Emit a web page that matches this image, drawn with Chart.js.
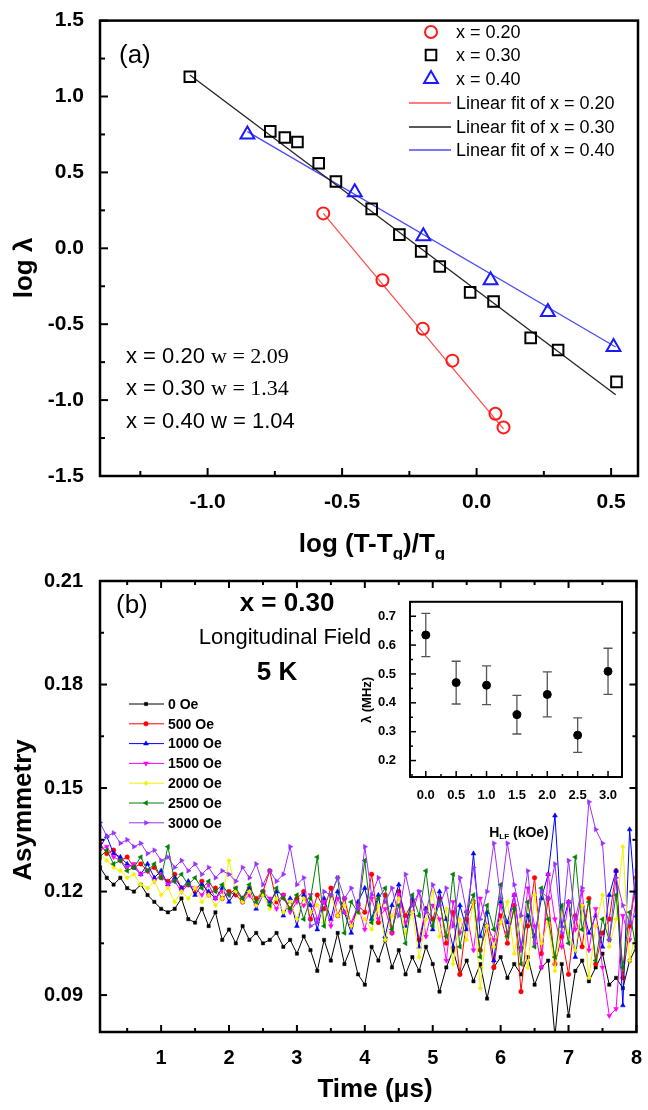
<!DOCTYPE html>
<html>
<head>
<meta charset="utf-8">
<script src="https://cdn.jsdelivr.net/npm/chart.js@4.4.0/dist/chart.umd.min.js"></script>
<style>
  html, body { margin: 0; padding: 0; background: #fff; }
  #wrap { position: relative; width: 648px; height: 1110px; }
  #wrap canvas { position: absolute; }
</style>
</head>
<body>
<div id="wrap">
  <canvas id="chartA" width="648" height="560" style="left:0;top:0;width:648px;height:560px"></canvas>
  <canvas id="chartB" width="648" height="550" style="left:0;top:560px;width:648px;height:550px"></canvas>
  <canvas id="inset" width="290" height="262" style="left:350px;top:588px;width:290px;height:262px"></canvas>
</div>
<script>
// === panel (a): log lambda vs log reduced temperature ===
const x20 = [-0.57, -0.35, -0.20, -0.09, 0.07, 0.10];
const y20 = [0.23, -0.21, -0.53, -0.74, -1.09, -1.18];
const x30 = [-1.066, -0.767, -0.713, -0.666, -0.587, -0.523, -0.390, -0.287, -0.206, -0.137, -0.024, 0.063, 0.201, 0.303, 0.520];
const y30 = [1.13, 0.77, 0.73, 0.70, 0.56, 0.44, 0.26, 0.09, -0.02, -0.12, -0.29, -0.35, -0.59, -0.67, -0.88];
const x40 = [-0.852, -0.453, -0.198, 0.052, 0.265, 0.509];
const y40 = [0.75, 0.37, 0.08, -0.21, -0.42, -0.65];
// fit line end points
const fit20X = [-0.57, 0.10], fit20Y = [0.23, -1.19];
const fit30X = [-1.066, 0.517], fit30Y = [1.142, -0.965];
const fit40X = [-0.852, 0.517], fit40Y = [0.769, -0.650];

const aXTicks = [-1.0, -0.5, 0.0, 0.5];
const aXMinor = [-1.25, -0.75, -0.25, 0.25];
const aYTicks = [-1.5, -1.0, -0.5, 0.0, 0.5, 1.0, 1.5];
const aYMinor = [-1.25, -0.75, -0.25, 0.25, 0.75, 1.25];

// === panel (b): asymmetry vs time ===
const timeUs = [
  0.1, 0.2, 0.3, 0.4, 0.5, 0.6, 0.7, 0.8, 0.9, 1.0,
  1.1, 1.2, 1.3, 1.4, 1.5, 1.6, 1.7, 1.8, 1.9, 2.0,
  2.1, 2.2, 2.3, 2.4, 2.5, 2.6, 2.7, 2.8, 2.9, 3.0,
  3.1, 3.2, 3.3, 3.4, 3.5, 3.6, 3.7, 3.8, 3.9, 4.0,
  4.1, 4.2, 4.3, 4.4, 4.5, 4.6, 4.7, 4.8, 4.9, 5.0,
  5.1, 5.2, 5.3, 5.4, 5.5, 5.6, 5.7, 5.8, 5.9, 6.0,
  6.1, 6.2, 6.3, 6.4, 6.5, 6.6, 6.7, 6.8, 6.9, 7.0,
  7.1, 7.2, 7.3, 7.4, 7.5, 7.6, 7.7, 7.8, 7.9, 8.0
];
const asym0 = [
  0.127, 0.124, 0.122, 0.124, 0.121, 0.120, 0.122, 0.119, 0.117, 0.115,
  0.114, 0.115, 0.118, 0.112, 0.111, 0.115, 0.110, 0.114, 0.106, 0.109,
  0.105, 0.110, 0.106, 0.108, 0.105, 0.106, 0.108, 0.104, 0.106, 0.102,
  0.107, 0.103, 0.097, 0.106, 0.100, 0.108, 0.099, 0.104, 0.096, 0.093,
  0.104, 0.100, 0.106, 0.098, 0.103, 0.096, 0.101, 0.097, 0.104, 0.099,
  0.091, 0.098, 0.103, 0.096, 0.100, 0.094, 0.099, 0.089, 0.098, 0.101,
  0.095, 0.099, 0.096, 0.101, 0.093, 0.098, 0.100, 0.078, 0.099, 0.084,
  0.097, 0.100, 0.094, 0.098, 0.102, 0.093, 0.095, 0.092, 0.100, 0.104
];
const asym500 = [
  0.134, 0.131, 0.132, 0.129, 0.130, 0.127, 0.128, 0.126, 0.127, 0.124,
  0.123, 0.125, 0.121, 0.122, 0.120, 0.123, 0.119, 0.121, 0.118, 0.120,
  0.119, 0.117, 0.121, 0.118, 0.120, 0.126, 0.117, 0.119, 0.115, 0.118,
  0.120, 0.112, 0.119, 0.115, 0.121, 0.113, 0.118, 0.110, 0.116, 0.114,
  0.125, 0.111, 0.119, 0.108, 0.120, 0.113, 0.117, 0.106, 0.115, 0.112,
  0.118, 0.105, 0.114, 0.096, 0.112, 0.117, 0.103, 0.110, 0.098, 0.113,
  0.105, 0.116, 0.091, 0.110, 0.124, 0.102, 0.118, 0.099, 0.107, 0.096,
  0.113, 0.104, 0.118, 0.099, 0.108, 0.112, 0.126, 0.095, 0.110, 0.124
];
const asym1000 = [
  0.133, 0.136, 0.131, 0.130, 0.128, 0.127, 0.125, 0.128, 0.124, 0.126,
  0.122, 0.124, 0.121, 0.123, 0.119, 0.122, 0.120, 0.118, 0.121, 0.117,
  0.120, 0.118, 0.121, 0.115, 0.119, 0.117, 0.120, 0.113, 0.118, 0.110,
  0.119, 0.116, 0.109, 0.118, 0.112, 0.120, 0.114, 0.108, 0.117, 0.121,
  0.112, 0.119, 0.107, 0.116, 0.122, 0.110, 0.118, 0.104, 0.115, 0.109,
  0.120, 0.112, 0.104, 0.116, 0.109, 0.131, 0.107, 0.114, 0.100, 0.117,
  0.111, 0.119, 0.104, 0.113, 0.107, 0.118, 0.125, 0.142, 0.110, 0.117,
  0.101, 0.116, 0.108, 0.113, 0.104, 0.119, 0.126, 0.087, 0.138, 0.113
];
const asym1500 = [
  0.132, 0.133, 0.130, 0.129, 0.127, 0.128, 0.125, 0.126, 0.123, 0.125,
  0.122, 0.123, 0.120, 0.122, 0.121, 0.119, 0.122, 0.118, 0.120, 0.119,
  0.121, 0.117, 0.119, 0.116, 0.120, 0.118, 0.115, 0.119, 0.114, 0.117,
  0.116, 0.119, 0.112, 0.117, 0.110, 0.118, 0.114, 0.111, 0.116, 0.109,
  0.118, 0.112, 0.115, 0.108, 0.119, 0.111, 0.114, 0.120, 0.107, 0.116,
  0.112, 0.100, 0.117, 0.108, 0.114, 0.103, 0.118, 0.110, 0.106, 0.116,
  0.108, 0.119, 0.103, 0.121, 0.110, 0.098, 0.125, 0.112, 0.104, 0.117,
  0.109, 0.120, 0.103, 0.115, 0.098, 0.084, 0.086, 0.113, 0.106, 0.118
];
const asym2000 = [
  0.131, 0.129, 0.127, 0.126, 0.124, 0.125, 0.122, 0.121, 0.123, 0.119,
  0.121, 0.117, 0.120, 0.118, 0.121, 0.117, 0.119, 0.116, 0.118, 0.129,
  0.120, 0.117, 0.120, 0.116, 0.119, 0.115, 0.118, 0.114, 0.117, 0.112,
  0.118, 0.114, 0.116, 0.111, 0.119, 0.113, 0.116, 0.110, 0.114, 0.112,
  0.109, 0.116, 0.106, 0.113, 0.118, 0.108, 0.114, 0.101, 0.112, 0.120,
  0.107, 0.115, 0.099, 0.112, 0.106, 0.117, 0.092, 0.110, 0.104, 0.111,
  0.117, 0.102, 0.113, 0.098, 0.119, 0.105, 0.111, 0.097, 0.114, 0.108,
  0.103, 0.116, 0.095, 0.110, 0.119, 0.104, 0.112, 0.133, 0.100, 0.109
];
const asym2500 = [
  0.130, 0.132, 0.128, 0.129, 0.126, 0.127, 0.130, 0.126, 0.128, 0.124,
  0.133, 0.123, 0.125, 0.122, 0.124, 0.121, 0.123, 0.120, 0.122, 0.119,
  0.121, 0.118, 0.122, 0.117, 0.120, 0.116, 0.121, 0.118, 0.115, 0.119,
  0.112, 0.118, 0.130, 0.110, 0.119, 0.124, 0.108, 0.117, 0.114, 0.129,
  0.111, 0.118, 0.121, 0.109, 0.116, 0.105, 0.119, 0.113, 0.126, 0.110,
  0.117, 0.107, 0.125, 0.104, 0.114, 0.119, 0.101, 0.116, 0.109, 0.122,
  0.107, 0.115, 0.099, 0.117, 0.104, 0.121, 0.112, 0.101, 0.116, 0.105,
  0.130, 0.109, 0.117, 0.100, 0.112, 0.106, 0.119, 0.098, 0.114, 0.103
];
const asym3000 = [
  0.140, 0.136, 0.137, 0.134, 0.135, 0.133, 0.134, 0.131, 0.132, 0.129,
  0.130, 0.127, 0.129, 0.126, 0.128, 0.125, 0.127, 0.124, 0.126, 0.125,
  0.123, 0.127, 0.124, 0.128, 0.122, 0.126, 0.123, 0.125, 0.133, 0.122,
  0.124, 0.110, 0.111, 0.120, 0.119, 0.124, 0.118, 0.121, 0.115, 0.133,
  0.119, 0.124, 0.117, 0.121, 0.113, 0.125, 0.116, 0.120, 0.114, 0.122,
  0.116, 0.121, 0.110, 0.124, 0.114, 0.127, 0.112, 0.120, 0.134, 0.118,
  0.134, 0.122, 0.113, 0.126, 0.105, 0.120, 0.118, 0.128, 0.108, 0.129,
  0.112, 0.121, 0.146, 0.138, 0.134, 0.106, 0.124, 0.116, 0.111, 0.126
];
const fieldLabels = ['0 Oe', '500 Oe', '1000 Oe', '1500 Oe', '2000 Oe', '2500 Oe', '3000 Oe'];

const bXTicks = [1, 2, 3, 4, 5, 6, 7, 8];
const bXMinor = [0.5, 1.5, 2.5, 3.5, 4.5, 5.5, 6.5, 7.5];
const bYTicks = [0.09, 0.12, 0.15, 0.18, 0.21];
const bYMinor = [0.105, 0.135, 0.165, 0.195];

// === inset: lambda vs longitudinal field ===
const fieldKOe = [0.0, 0.5, 1.0, 1.5, 2.0, 2.5, 3.0];
const lambdaMHz = [0.635, 0.470, 0.461, 0.359, 0.429, 0.288, 0.509];
const lambdaErr = [0.075, 0.074, 0.067, 0.067, 0.078, 0.060, 0.080];

const iXTicks = [0.0, 0.5, 1.0, 1.5, 2.0, 2.5, 3.0];
const iXMinor = [0.25, 0.75, 1.25, 1.75, 2.25, 2.75];
const iYTicks = [0.2, 0.3, 0.4, 0.5, 0.6, 0.7];
const iYMinor = [0.15, 0.25, 0.35, 0.45, 0.55, 0.65, 0.75];

// ------------------------------------------------------------
const SANS = "'Liberation Sans', Arial, sans-serif";
const SERIF = "'Liberation Serif', 'Times New Roman', serif";
Chart.defaults.font.family = SANS;
Chart.defaults.color = '#000';

const pts = (xs, ys) => xs.map((x, i) => ({ x, y: ys[i] }));

function linAxis(min, max, tickVals, digits, size, fit, pad) {
  return {
    type: 'linear', min, max,
    grid: { display: false },
    border: { display: false },
    afterBuildTicks: s => { s.ticks = tickVals.map(v => ({ value: v })); },
    afterFit: s => { if (s.isHorizontal()) s.height = fit; else s.width = fit; },
    ticks: {
      color: '#000', padding: pad, autoSkip: false, maxRotation: 0,
      font: { family: SANS, size, weight: 'bold' },
      callback: v => Number(v).toFixed(digits)
    }
  };
}

// box + inward ticks
const framePlugin = {
  id: 'frame',
  afterDatasetsDraw(chart, args, o) {
    const { ctx, chartArea: a } = chart;
    const sx = chart.scales.x, sy = chart.scales.y;
    ctx.save();
    ctx.strokeStyle = '#000';
    ctx.lineWidth = o.tickWidth || 1.5;
    const xt = (vals, len) => vals.forEach(v => {
      const p = sx.getPixelForValue(v);
      ctx.beginPath(); ctx.moveTo(p, a.bottom); ctx.lineTo(p, a.bottom - len); ctx.stroke();
      if (o.mirror) { ctx.beginPath(); ctx.moveTo(p, a.top); ctx.lineTo(p, a.top + len); ctx.stroke(); }
    });
    const yt = (vals, len) => vals.forEach(v => {
      const p = sy.getPixelForValue(v);
      ctx.beginPath(); ctx.moveTo(a.left, p); ctx.lineTo(a.left + len, p); ctx.stroke();
      if (o.mirror) { ctx.beginPath(); ctx.moveTo(a.right, p); ctx.lineTo(a.right - len, p); ctx.stroke(); }
    });
    xt(o.xMajor, o.major); xt(o.xMinor, o.minor);
    yt(o.yMajor, o.major); yt(o.yMinor, o.minor);
    ctx.lineWidth = o.lw;
    ctx.strokeRect(a.left, a.top, a.right - a.left, a.bottom - a.top);
    ctx.restore();
  }
};

// free text, parts may mix fonts / subscripts
const notesPlugin = {
  id: 'notes',
  afterDraw(chart, args, o) {
    const ctx = chart.ctx;
    (o.items || []).forEach(it => {
      ctx.save();
      ctx.fillStyle = '#000';
      ctx.textBaseline = 'middle';
      ctx.translate(it.x, it.y);
      if (it.rot) ctx.rotate(it.rot);
      let w = 0;
      it.parts.forEach(p => { ctx.font = p.f; w += ctx.measureText(p.t).width; });
      let cx = it.center ? -w / 2 : 0;
      it.parts.forEach(p => {
        ctx.font = p.f;
        ctx.fillText(p.t, cx, p.dy || 0);
        cx += ctx.measureText(p.t).width;
      });
      ctx.restore();
    });
  }
};

// legend drawn inside the plot
const keyPlugin = {
  id: 'key',
  afterDraw(chart, args, o) {
    if (!o.items) return;
    const ctx = chart.ctx;
    o.items.forEach(it => {
      const ds = chart.data.datasets[it.ds];
      ctx.save();
      if (it.line) {
        ctx.strokeStyle = ds.borderColor;
        ctx.lineWidth = ds.borderWidth || 1;
        ctx.beginPath(); ctx.moveTo(it.line[0], it.y); ctx.lineTo(it.line[1], it.y); ctx.stroke();
      }
      if (it.mark !== undefined) {
        ctx.fillStyle = ds.pointBackgroundColor || 'transparent';
        ctx.strokeStyle = ds.pointBorderColor || ds.borderColor;
        ctx.lineWidth = ds.pointBorderWidth;
        Chart.helpers.drawPoint(ctx, {
          pointStyle: ds.pointStyle, rotation: ds.pointRotation || 0,
          radius: ds.pointRadius, borderWidth: ds.pointBorderWidth
        }, it.mark, it.y);
      }
      ctx.fillStyle = '#000';
      ctx.font = o.font;
      ctx.textBaseline = 'middle';
      ctx.fillText(ds.label, o.textX, it.y + 1);
      ctx.restore();
    });
  }
};

// vertical error bars for the inset
const errPlugin = {
  id: 'errbars',
  beforeDatasetsDraw(chart, args, o) {
    if (!o.err) return;
    const { ctx } = chart;
    const sx = chart.scales.x, sy = chart.scales.y;
    ctx.save();
    ctx.strokeStyle = '#555';
    ctx.lineWidth = 1.3;
    o.xs.forEach((xv, i) => {
      const px = sx.getPixelForValue(xv);
      const t = sy.getPixelForValue(o.ys[i] + o.err[i]);
      const b = sy.getPixelForValue(o.ys[i] - o.err[i]);
      ctx.beginPath();
      ctx.moveTo(px, t); ctx.lineTo(px, b);
      ctx.moveTo(px - 4.5, t); ctx.lineTo(px + 4.5, t);
      ctx.moveTo(px - 4.5, b); ctx.lineTo(px + 4.5, b);
      ctx.stroke();
    });
    ctx.restore();
  }
};

const plugins = [framePlugin, notesPlugin, keyPlugin, errPlugin];

// ---------------- panel (a) ----------------
const openPt = (label, xs, ys, style, r, color) => ({
  label, data: pts(xs, ys), pointStyle: style, pointRadius: r,
  pointBorderWidth: 2, borderColor: color, pointBorderColor: color,
  pointBackgroundColor: 'transparent', backgroundColor: 'transparent'
});
const fitLine = (label, xs, ys, color) => ({
  label, data: pts(xs, ys), showLine: true, pointRadius: 0,
  borderColor: color, borderWidth: 1.3
});

new Chart(document.getElementById('chartA'), {
  type: 'scatter',
  data: {
    datasets: [
      openPt('x = 0.20', x20, y20, 'circle', 6, '#ff1a1a'),
      openPt('x = 0.30', x30, y30, 'rect', 7.5, '#000000'),
      openPt('x = 0.40', x40, y40, 'triangle', 8, '#1a1aff'),
      fitLine('Linear fit of x = 0.20', fit20X, fit20Y, '#ff5050'),
      fitLine('Linear fit of x = 0.30', fit30X, fit30Y, '#222222'),
      fitLine('Linear fit of x = 0.40', fit40X, fit40Y, '#4a4aff')
    ]
  },
  options: {
    responsive: false, animation: false, events: [],
    layout: { padding: { top: 20, right: 5, left: 0, bottom: 0 } },
    scales: {
      x: linAxis(-1.4, 0.6, aXTicks, 1, 21, 84, 6),
      y: linAxis(-1.5, 1.5, aYTicks, 1, 21, 100, 8)
    },
    plugins: {
      legend: { display: false }, tooltip: { enabled: false },
      frame: { xMajor: aXTicks, xMinor: aXMinor, yMajor: aYTicks, yMinor: aYMinor, major: 8, minor: 5, lw: 2.5, tickWidth: 2 },
      key: {
        font: '18px ' + SANS, textX: 456,
        items: [
          { ds: 0, y: 32, mark: 431 },
          { ds: 1, y: 55, mark: 431 },
          { ds: 2, y: 79, mark: 431 },
          { ds: 3, y: 103, line: [409, 451] },
          { ds: 4, y: 127, line: [409, 451] },
          { ds: 5, y: 150, line: [409, 451] }
        ]
      },
      notes: {
        items: [
          { x: 119, y: 56, parts: [{ t: '(a)', f: '26px ' + SANS }] },
          { x: 126, y: 357, parts: [{ t: 'x = 0.20 ', f: '22px ' + SANS }, { t: 'w = 2.09', f: '22px ' + SERIF }] },
          { x: 126, y: 389, parts: [{ t: 'x = 0.30 ', f: '22px ' + SANS }, { t: 'w = 1.34', f: '22px ' + SERIF }] },
          { x: 126, y: 422, parts: [{ t: 'x = 0.40 w = 1.04', f: '22px ' + SANS }] },
          { x: 25, y: 268, rot: -Math.PI / 2, center: true, parts: [{ t: 'log λ', f: 'bold 26px ' + SANS }] },
          { x: 372, y: 545, center: true, parts: [
            { t: 'log (T-T', f: 'bold 26px ' + SANS },
            { t: 'g', f: 'bold 17px ' + SANS, dy: 9 },
            { t: ')/T', f: 'bold 26px ' + SANS },
            { t: 'g', f: 'bold 17px ' + SANS, dy: 9 }
          ] }
        ]
      }
    }
  },
  plugins
});

// ---------------- panel (b) ----------------
const seriesB = [asym0, asym500, asym1000, asym1500, asym2000, asym2500, asym3000];
const colorsB = ['#000000', '#ff0000', '#0000ff', '#ff00ff', '#f2f200', '#008000', '#9b30ff'];
const stylesB = ['rect', 'circle', 'triangle', 'triangle', 'rectRot', 'triangle', 'triangle'];
const rotB = [0, 0, 0, 180, 0, -90, 90];

new Chart(document.getElementById('chartB'), {
  type: 'scatter',
  data: {
    datasets: seriesB.map((vals, i) => ({
      label: fieldLabels[i],
      data: pts(timeUs, vals),
      showLine: true,
      borderColor: colorsB[i], borderWidth: 1,
      pointBackgroundColor: colorsB[i], pointBorderColor: colorsB[i],
      pointStyle: stylesB[i], pointRotation: rotB[i],
      pointRadius: stylesB[i] === 'triangle' ? 2.8 : 2.3, pointBorderWidth: 0.5,
      order: 6 - i
    }))
  },
  options: {
    responsive: false, animation: false, events: [],
    layout: { padding: { top: 19, right: 5, left: 0, bottom: 0 } },
    scales: {
      x: linAxis(0.1, 8, bXTicks, 0, 20, 78, 6),
      y: linAxis(0.0793, 0.21, bYTicks, 2, 20, 100, 9)
    },
    plugins: {
      legend: { display: false }, tooltip: { enabled: false },
      frame: { xMajor: bXTicks, xMinor: bXMinor, yMajor: bYTicks, yMinor: bYMinor, major: 7, minor: 4, lw: 2.5, tickWidth: 2, mirror: true },
      key: {
        font: 'bold 14px ' + SANS, textX: 168,
        items: fieldLabels.map((l, i) => ({ ds: i, y: 144 + 19.8 * i, line: [129, 164], mark: 146 }))
      },
      notes: {
        items: [
          { x: 116, y: 46, parts: [{ t: '(b)', f: '26px ' + SANS }] },
          { x: 287, y: 44, center: true, parts: [{ t: 'x = 0.30', f: 'bold 26px ' + SANS }] },
          { x: 285, y: 78, center: true, parts: [{ t: 'Longitudinal Field', f: '22px ' + SANS }] },
          { x: 277, y: 113, center: true, parts: [{ t: '5 K', f: 'bold 26px ' + SANS }] },
          { x: 24, y: 250, rot: -Math.PI / 2, center: true, parts: [{ t: 'Asymmetry', f: 'bold 26px ' + SANS }] },
          { x: 375, y: 530, center: true, parts: [{ t: 'Time (μs)', f: 'bold 26px ' + SANS }] }
        ]
      }
    }
  },
  plugins
});

// ---------------- inset ----------------
new Chart(document.getElementById('inset'), {
  type: 'scatter',
  data: {
    datasets: [{
      label: 'lambda', data: pts(fieldKOe, lambdaMHz),
      pointStyle: 'circle', pointRadius: 4,
      pointBackgroundColor: '#000', pointBorderColor: '#000', borderColor: '#000'
    }]
  },
  options: {
    responsive: false, animation: false, events: [],
    layout: { padding: { top: 8, right: 18, left: 0, bottom: 0 } },
    scales: {
      x: linAxis(-0.26, 3.23, iXTicks, 1, 13, 73, 3),
      y: linAxis(0.143, 0.75, iYTicks, 1, 13, 60, 6)
    },
    plugins: {
      legend: { display: false }, tooltip: { enabled: false },
      frame: { xMajor: iXTicks, xMinor: iXMinor, yMajor: iYTicks, yMinor: iYMinor, major: 6, minor: 3, lw: 2, tickWidth: 1.5 },
      errbars: { xs: fieldKOe, ys: lambdaMHz, err: lambdaErr },
      notes: {
        items: [
          { x: 17, y: 112, rot: -Math.PI / 2, center: true, parts: [{ t: 'λ (MHz)', f: 'bold 13px ' + SANS }] },
          { x: 169, y: 245, center: true, parts: [
            { t: 'H', f: 'bold 14px ' + SANS },
            { t: 'LF', f: 'bold 8px ' + SANS, dy: 4 },
            { t: ' (kOe)', f: 'bold 14px ' + SANS }
          ] }
        ]
      }
    }
  },
  plugins
});
</script>
</body>
</html>
